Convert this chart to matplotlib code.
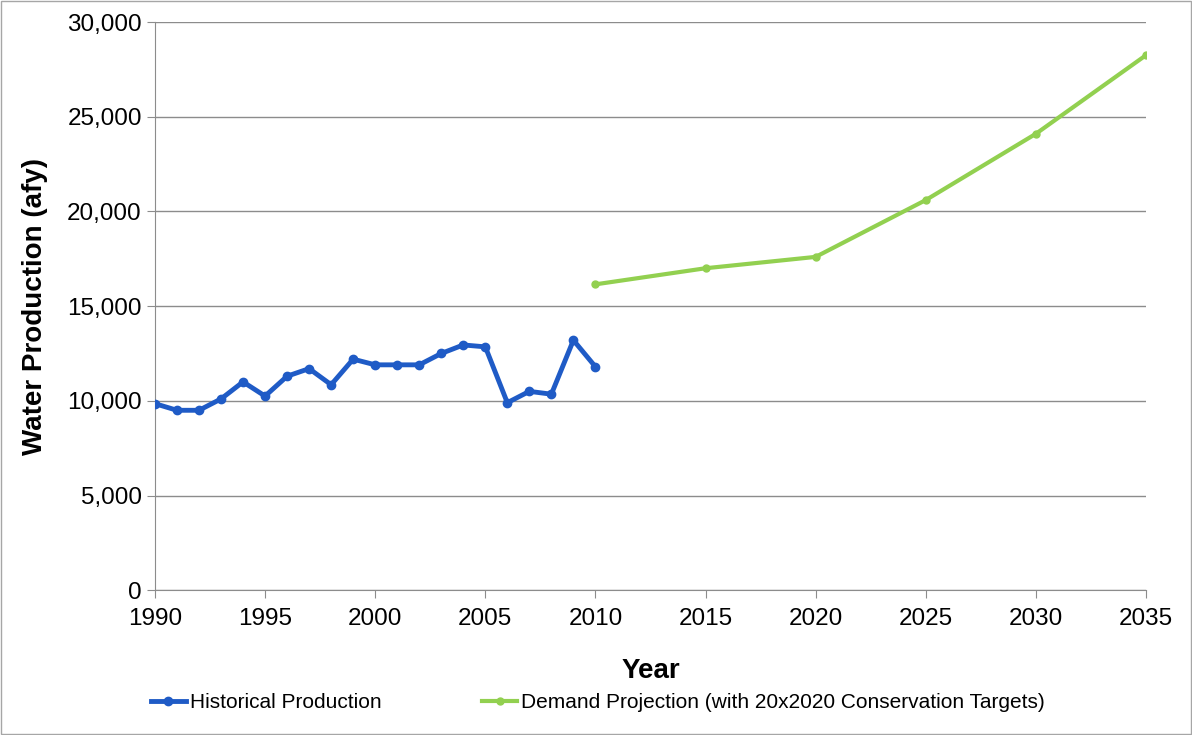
import matplotlib.pyplot as plt
from matplotlib.ticker import FuncFormatter

plt.rcParams['font.family'] = ['Liberation Sans', 'DejaVu Sans']

# values
hist_years = list(range(1990, 2011))
hist_afy = [9850, 9500, 9500, 10100, 11000, 10250, 11300, 11700, 10850, 12200,
            11900, 11900, 11900, 12500, 12950, 12850, 9900, 10500, 10350, 13200,
            11800]

proj_years = [2010, 2015, 2020, 2025, 2030, 2035]
proj_afy = [16150, 17000, 17600, 20600, 24100, 28250]

x_ticks = list(range(1990, 2036, 5))
y_ticks = list(range(0, 30001, 5000))

fig = plt.figure(figsize=(11.92, 7.35), dpi=100)
fig.patches.append(plt.Rectangle((0.001, 0.001), 0.998, 0.998, transform=fig.transFigure,
                                 fill=False, edgecolor='#a6a6a6', lw=1))
ax = fig.add_axes([0.130, 0.197, 0.8314, 0.773])

ax.plot(hist_years, hist_afy, color='#1f5bc6', lw=3.5, marker='o', ms=6,
        label='Historical Production', zorder=3)
ax.plot(proj_years, proj_afy, color='#92d050', lw=3, marker='o', ms=5,
        label='Demand Projection (with 20x2020 Conservation Targets)', zorder=3)

ax.set_xlim(1990, 2035)
ax.set_ylim(0, 30000)
ax.set_xticks(x_ticks)
ax.set_yticks(y_ticks)
ax.yaxis.set_major_formatter(FuncFormatter(lambda v, p: f'{int(v):,}'))
ax.grid(axis='y', color='#8c8c8c', lw=1)
ax.set_axisbelow(True)
for s in ['top', 'right']:
    ax.spines[s].set_visible(False)
for s in ['left', 'bottom']:
    ax.spines[s].set_color('#8c8c8c')
ax.tick_params(axis='both', labelsize=17.5, color='#8c8c8c', length=6, direction='out')
ax.tick_params(axis='x', pad=7)

ax.set_xlabel('Year', fontsize=20, fontweight='bold', labelpad=20)
ax.set_ylabel('Water Production (afy)', fontsize=20, fontweight='bold', labelpad=14)

ax.legend(loc='upper center', bbox_to_anchor=(0.447, -0.148), ncol=2, frameon=False,
          fontsize=15, columnspacing=4.8, handlelength=1.7, handletextpad=0.2)

fig.savefig('out.png', dpi=100)
